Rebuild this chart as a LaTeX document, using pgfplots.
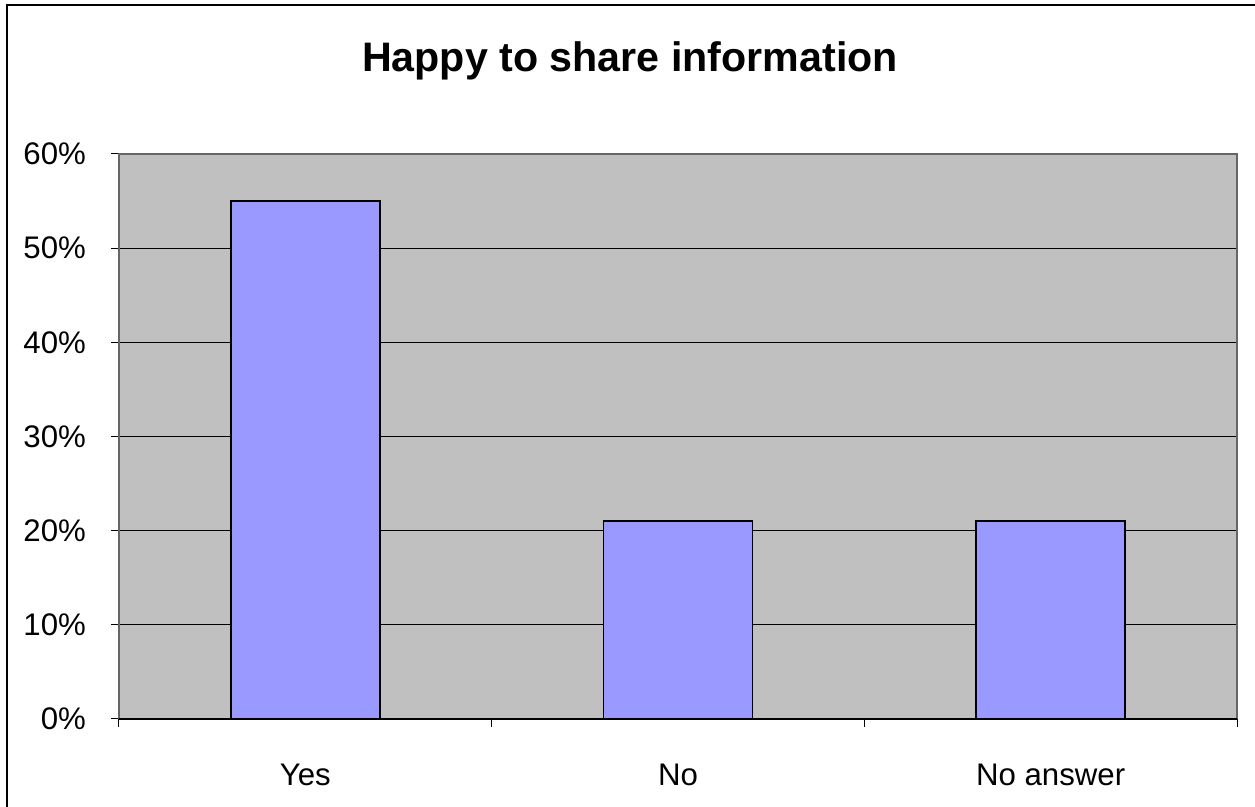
\documentclass[border=0pt]{standalone}
\usepackage{pgfplots}
\pgfplotsset{compat=1.18}
\usepackage{fontspec}
\setmainfont{Liberation Sans}
\definecolor{plotgray}{HTML}{C0C0C0}
\definecolor{barblue}{HTML}{9999FF}
\begin{document}
\begin{tikzpicture}
\useasboundingbox (0,0) rectangle (627.5pt,403.5pt);
\fill[white] (0,0) rectangle (627.5pt,403.5pt);
\draw[black, line width=0.8pt] (3.5pt,0pt) -- (3.5pt,401pt) -- (627.5pt,401pt);
\node[anchor=base, font=\fontsize{20.6}{24}\selectfont\bfseries] at (315pt,367.5pt) {Happy to share information};
\begin{axis}[
  at={(59.5pt,44pt)}, anchor=south west,
  scale only axis, width=559pt, height=282.5pt,
  xmin=-0.5, xmax=2.5, ymin=0, ymax=60,
  axis background/.style={fill=plotgray},
  axis line style={draw=gray!80!black, line width=0.6pt},
  ytick={0,10,20,30,40,50,60},
  yticklabels={0\%,10\%,20\%,30\%,40\%,50\%,60\%},
  xtick={0,1,2}, xticklabels={Yes,No,No answer},
  extra x ticks={-0.5,0.5,1.5,2.5}, extra x tick labels={},
  extra x tick style={xtick style={draw=black, line width=0.5pt}, grid=none},
  xtick style={draw=none},
  ytick style={draw=black, line width=0.5pt},
  major tick length=4pt,
  tick align=outside,
  xtick pos=lower, ytick pos=left,
  ymajorgrids, major grid style={black, line width=0.5pt},
  tick label style={font=\fontsize{15.6}{18}\selectfont},
  /pgf/number format/assume math mode=true,
  yticklabel style={xshift=-9pt},
  xticklabel style={yshift=-15pt},
  ybar, bar width=74.5pt,
  clip=false,
]
\addplot[fill=barblue, draw=black, line width=0.8pt] coordinates {(0,55) (1,21) (2,21)};
\draw[black, line width=0.6pt] (axis cs:-0.5,0) -- (axis cs:2.5,0);
\end{axis}
\end{tikzpicture}
\end{document}
